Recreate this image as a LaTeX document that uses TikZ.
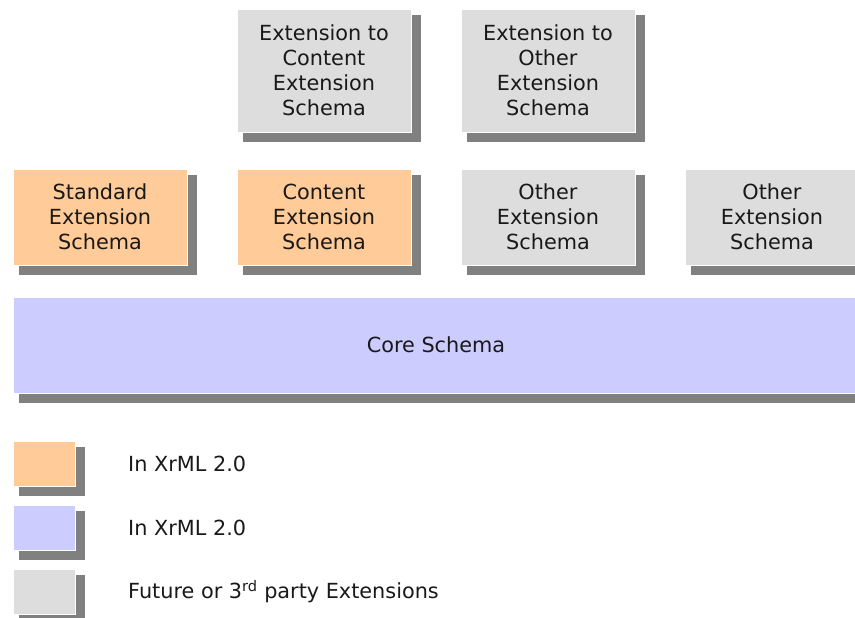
\documentclass[tikz,border=0pt]{standalone}
\usepackage{fontspec}
\setmainfont{DejaVu Sans}
\usetikzlibrary{backgrounds}

\definecolor{stdorange}{HTML}{FFCC99}
\definecolor{coreblue}{HTML}{CCCCFF}
\definecolor{futuregray}{HTML}{DDDDDD}
\definecolor{shadowgray}{HTML}{808080}

\tikzset{
	schema/.style={draw=white,line width=.8pt,inner sep=0pt,outer sep=0pt,
		minimum width=174pt,minimum height=96pt,align=center,
		font=\fontsize{20.8}{25}\selectfont,text=black!90},
	keybox/.style={schema,minimum width=62pt,minimum height=45pt},
	keytext/.style={anchor=west,inner sep=0pt,font=\fontsize{20.8}{25}\selectfont,text=black!90}
}

\begin{document}
\begin{tikzpicture}[x=1pt,y=-1pt]
	\useasboundingbox (0,0) rectangle (855,618);

	% extensions of extensions
	\node[schema,fill=futuregray,minimum height=123pt] (ext1) at (324,70.5) {Extension to\\Content\\Extension\\Schema};
	\node[schema,fill=futuregray,minimum height=123pt] (ext2) at (548,70.5) {Extension to\\Other\\Extension\\Schema};

	% extension schemas
	\node[schema,fill=stdorange] (std) at (100,217) {Standard\\Extension\\Schema};
	\node[schema,fill=stdorange] (content) at (324,217) {Content\\Extension\\Schema};
	\node[schema,fill=futuregray] (other1) at (548,217) {Other\\Extension\\Schema};
	\node[schema,fill=futuregray] (other2) at (772,217) {Other\\Extension\\Schema};

	% core
	\node[schema,fill=coreblue,minimum width=846pt] (core) at (436,345) {Core Schema};

	% legend
	\node[keybox,fill=stdorange] (key1) at (44,463.5) {};
	\node[keybox,fill=coreblue] (key2) at (44,527.5) {};
	\node[keybox,fill=futuregray] (key3) at (44,591.5) {};
	\node[keytext] (label1) at (128,463.5) {In XrML 2.0};
	\node[keytext] (label2) at (128,527.5) {In XrML 2.0};
	\node[keytext] (label3) at (128,591.5) {Future or 3\textsuperscript{rd} party Extensions};

	% shadows behind every box
	\begin{scope}[on background layer]
		\foreach \n in {ext1,ext2,std,content,other1,other2,core,key1,key2,key3}
			\fill[shadowgray] ([shift={(6,6)}]\n.north west) rectangle ([shift={(10,10)}]\n.south east);
	\end{scope}
\end{tikzpicture}
\end{document}
